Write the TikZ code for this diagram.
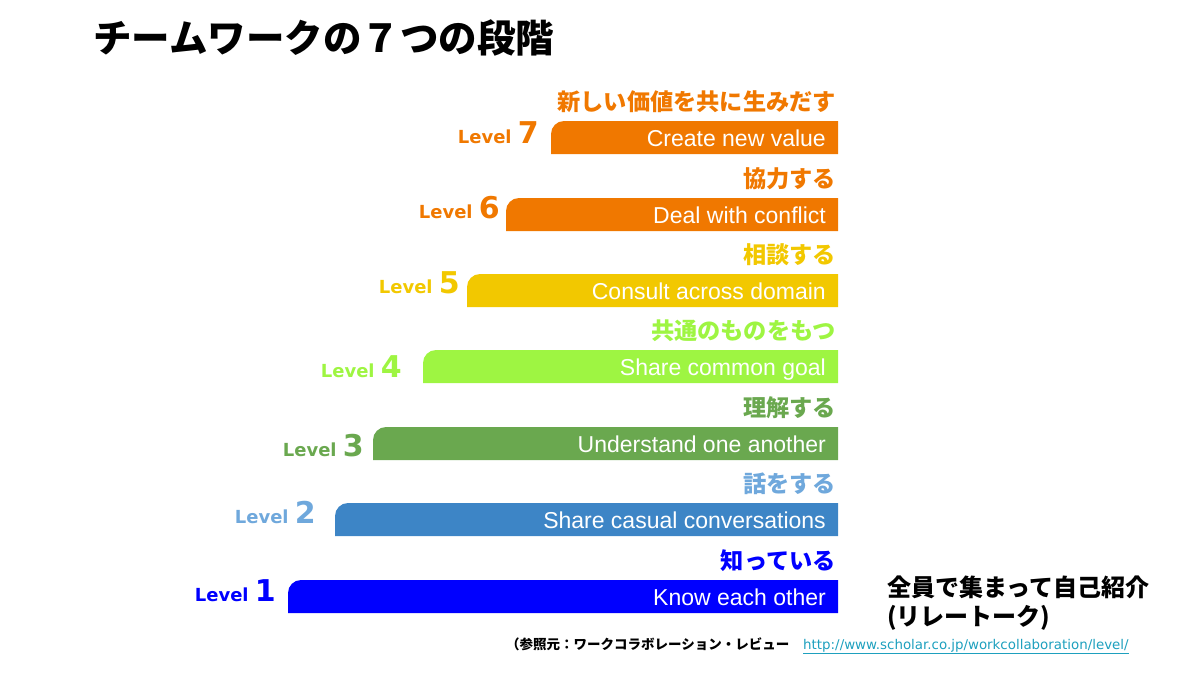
\documentclass[tikz,border=0pt]{standalone}
\usepackage{fontspec}
\setmainfont{Liberation Sans}
\newfontfamily\jpfont{Noto Sans CJK JP}
\newfontfamily\lvfont{DejaVu Sans}
\usetikzlibrary{positioning}

\definecolor{lvorange}{RGB}{240,120,0}
\definecolor{lvyellow}{RGB}{242,200,0}
\definecolor{lvlime}{RGB}{158,245,66}
\definecolor{lvgreen}{RGB}{106,168,79}
\definecolor{lvsky}{RGB}{61,133,198}
\definecolor{lvskytext}{RGB}{111,168,220}
\definecolor{lvblue}{RGB}{0,0,255}
\definecolor{urlteal}{RGB}{30,160,190}

\newcommand{\lvdigit}{\fontsize{30}{30}\selectfont}

\begin{document}
\begin{tikzpicture}[x=1pt,y=-1pt,
		jplabel/.style={anchor=base east, inner sep=0pt, font=\jpfont\bfseries\fontsize{23.2}{23.2}\selectfont},
		bartext/.style={anchor=base east, inner sep=0pt, text=white, font=\fontsize{23}{23}\selectfont},
		lvlabel/.style={anchor=base east, inner sep=0pt, font=\lvfont\bfseries\fontsize{18}{18}\selectfont}]
		\useasboundingbox (0,0) rectangle (1200,675);

		\node [anchor=base west, inner sep=0pt, font=\jpfont\bfseries\fontsize{38.5}{38.5}\selectfont] (title) at (93,52) {チームワークの７つの段階};

		% level 7
		\fill [lvorange] (551,154) -- (551,134) arc [start angle=180, end angle=270, radius=13] -- (838,121) -- (838,154) -- cycle;
		\node [jplabel, text=lvorange] (jp7) at (836,110) {新しい価値を共に生みだす};
		\node [bartext] (en7) at (826,146) {Create new value};
		\node [lvlabel, text=lvorange] (lv7) at (539,143) {Level {\lvdigit 7}};

		% level 6
		\fill [lvorange] (506,231) -- (506,211) arc [start angle=180, end angle=270, radius=13] -- (838,198) -- (838,231) -- cycle;
		\node [jplabel, text=lvorange] (jp6) at (836,187) {協力する};
		\node [bartext] (en6) at (826,223) {Deal with conflict};
		\node [lvlabel, text=lvorange] (lv6) at (500,218) {Level {\lvdigit 6}};

		% level 5
		\fill [lvyellow] (467,307) -- (467,287) arc [start angle=180, end angle=270, radius=13] -- (838,274) -- (838,307) -- cycle;
		\node [jplabel, text=lvyellow] (jp5) at (836,263) {相談する};
		\node [bartext] (en5) at (826,299) {Consult across domain};
		\node [lvlabel, text=lvyellow] (lv5) at (460,293) {Level {\lvdigit 5}};

		% level 4
		\fill [lvlime] (423,383) -- (423,363) arc [start angle=180, end angle=270, radius=13] -- (838,350) -- (838,383) -- cycle;
		\node [jplabel, text=lvlime] (jp4) at (836,339) {共通のものをもつ};
		\node [bartext] (en4) at (826,375) {Share common goal};
		\node [lvlabel, text=lvlime] (lv4) at (402,377) {Level {\lvdigit 4}};

		% level 3
		\fill [lvgreen] (373,460) -- (373,440) arc [start angle=180, end angle=270, radius=13] -- (838,427) -- (838,460) -- cycle;
		\node [jplabel, text=lvgreen] (jp3) at (836,416) {理解する};
		\node [bartext] (en3) at (826,452) {Understand one another};
		\node [lvlabel, text=lvgreen] (lv3) at (364,456) {Level {\lvdigit 3}};

		% level 2
		\fill [lvsky] (335,536) -- (335,516) arc [start angle=180, end angle=270, radius=13] -- (838,503) -- (838,536) -- cycle;
		\node [jplabel, text=lvskytext] (jp2) at (836,492) {話をする};
		\node [bartext] (en2) at (826,528) {Share casual conversations};
		\node [lvlabel, text=lvskytext] (lv2) at (316,523) {Level {\lvdigit 2}};

		% level 1
		\fill [lvblue] (288,613) -- (288,593) arc [start angle=180, end angle=270, radius=13] -- (838,580) -- (838,613) -- cycle;
		\node [jplabel, text=lvblue] (jp1) at (836,569) {知っている};
		\node [bartext] (en1) at (826,605) {Know each other};
		\node [lvlabel, text=lvblue] (lv1) at (276,601) {Level {\lvdigit 1}};

		% side note and source
		\node [anchor=base west, inner sep=0pt, font=\jpfont\bfseries\fontsize{24}{24}\selectfont] (note1) at (887,596) {全員で集まって自己紹介};
		\node [anchor=base west, inner sep=0pt, font=\jpfont\bfseries\fontsize{24}{24}\selectfont] (note2) at (887,625) {(リレートーク)};
		\node [anchor=base west, inner sep=0pt, font=\jpfont\bfseries\fontsize{13.5}{13.5}\selectfont] (src) at (506,649) {（参照元：ワークコラボレーション・レビュー};
		\node [anchor=base west, inner sep=0pt, text=urlteal, font=\lvfont\fontsize{13.4}{13.4}\selectfont] (url) at (803,649) {\underline{http://www.scholar.co.jp/workcollaboration/level/}};
	\end{tikzpicture}
\end{document}
